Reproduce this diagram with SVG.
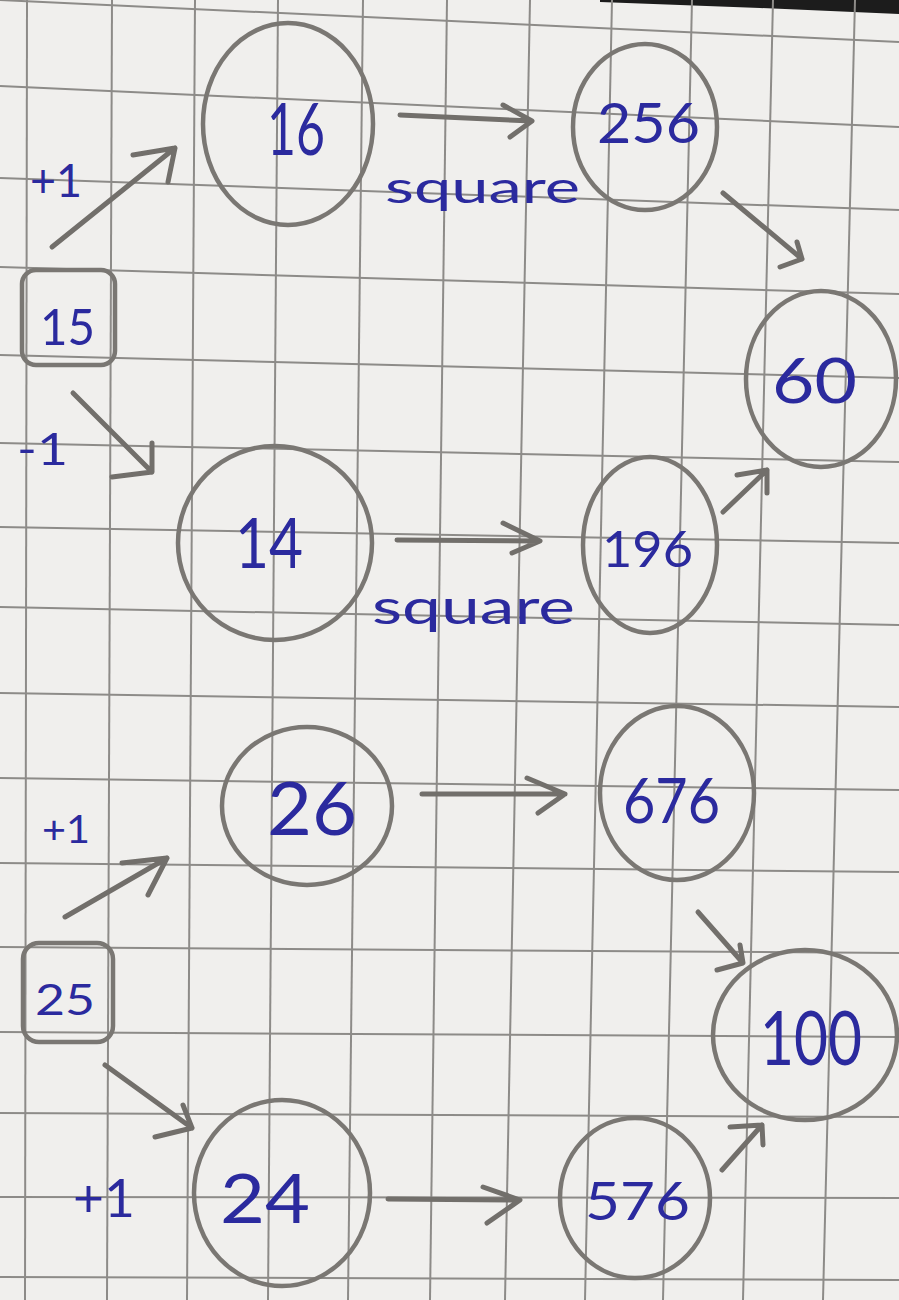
<svg xmlns="http://www.w3.org/2000/svg" width="899" height="1300" viewBox="0 0 899 1300">
<style>
.grid line{stroke:#8d8b88;stroke-width:2}
.node{fill:none;stroke:#7a7773;stroke-width:4.5}
.edge{fill:none;stroke:#726f6b;stroke-width:5;stroke-linecap:round;stroke-linejoin:round}
.num{font-family:Lato,"Liberation Sans",sans-serif;font-weight:400;fill:#2b2a9e}
.lbl{font-family:Lato,"Liberation Sans",sans-serif;font-weight:400;fill:#2b2a9e}
</style>
<rect width="899" height="1300" fill="#f0efed"/>
<polygon points="600,0 899,0 899,14 760,8 600,2" fill="#1c1c1c"/>
<g class="grid">
<line x1="0" y1="0" x2="899" y2="42"/>
<line x1="0" y1="86" x2="899" y2="127"/>
<line x1="0" y1="178" x2="899" y2="210"/>
<line x1="0" y1="267" x2="899" y2="294"/>
<line x1="0" y1="355" x2="899" y2="378"/>
<line x1="0" y1="443" x2="899" y2="462"/>
<line x1="0" y1="527" x2="899" y2="543"/>
<line x1="0" y1="607" x2="899" y2="625"/>
<line x1="0" y1="693" x2="899" y2="707"/>
<line x1="0" y1="778" x2="899" y2="790"/>
<line x1="0" y1="863" x2="899" y2="872"/>
<line x1="0" y1="947" x2="899" y2="953"/>
<line x1="0" y1="1032" x2="899" y2="1037"/>
<line x1="0" y1="1113" x2="899" y2="1117"/>
<line x1="0" y1="1197" x2="899" y2="1198"/>
<line x1="0" y1="1277" x2="899" y2="1280"/>
<line x1="27" y1="0" x2="25" y2="1300"/>
<line x1="112" y1="0" x2="107" y2="1300"/>
<line x1="195" y1="0" x2="187" y2="1300"/>
<line x1="278" y1="0" x2="268" y2="1300"/>
<line x1="363" y1="0" x2="348" y2="1300"/>
<line x1="447" y1="0" x2="430" y2="1300"/>
<line x1="530" y1="0" x2="505" y2="1300"/>
<line x1="612" y1="0" x2="585" y2="1300"/>
<line x1="692" y1="0" x2="663" y2="1300"/>
<line x1="773" y1="0" x2="743" y2="1300"/>
<line x1="855" y1="0" x2="823" y2="1300"/>
</g>
<g id="connectors">
<path class="edge" d="M52,247 L175,148 M133,155 L175,148 L168,182"/>
<path class="edge" d="M400,115 L532,121 M503,105 L532,121 L510,137"/>
<path class="edge" d="M723,193 L802,259 M797,242 L802,259 L780,267"/>
<path class="edge" d="M73,393 L152,472 M152,443 L152,472 L112,477"/>
<path class="edge" d="M397,540 L540,541 M503,523 L540,541 L512,553"/>
<path class="edge" d="M723,512 L767,470 M737,475 L767,470 L767,493"/>
<path class="edge" d="M65,917 L167,858 M122,863 L167,858 L148,895"/>
<path class="edge" d="M422,794 L565,794 M527,778 L565,794 L538,813"/>
<path class="edge" d="M698,912 L743,963 M740,945 L743,963 L717,970"/>
<path class="edge" d="M105,1065 L192,1128 M183,1105 L192,1128 L155,1137"/>
<path class="edge" d="M388,1199 L520,1200 M483,1187 L520,1200 L487,1223"/>
<path class="edge" d="M722,1170 L762,1125 M730,1127 L762,1125 L763,1145"/>
<text class="lbl" x="30" y="197" font-size="46" textLength="52" lengthAdjust="spacingAndGlyphs">+1</text>
<text class="lbl" x="17" y="465" font-size="44" textLength="51" lengthAdjust="spacingAndGlyphs">-1</text>
<text class="lbl" x="42" y="843" font-size="38" textLength="48" lengthAdjust="spacingAndGlyphs">+1</text>
<text class="lbl" x="73" y="1217" font-size="52" textLength="62" lengthAdjust="spacingAndGlyphs">+1</text>
<text class="lbl" x="385" y="203" font-size="44" textLength="195" lengthAdjust="spacingAndGlyphs">square</text>
<text class="lbl" x="372" y="624" font-size="48" textLength="203" lengthAdjust="spacingAndGlyphs">square</text>
</g>
<g id="n15">
<rect class="node" x="22" y="270" width="93" height="95" rx="14"/>
<text class="num" x="40" y="345" font-size="51" textLength="55" lengthAdjust="spacingAndGlyphs">15</text>
</g>
<g id="n16">
<ellipse class="node" cx="288" cy="124" rx="85" ry="101"/>
<text class="num" x="267" y="155" font-size="72" textLength="58" lengthAdjust="spacingAndGlyphs">16</text>
</g>
<g id="n256">
<ellipse class="node" cx="645" cy="127" rx="72" ry="83"/>
<text class="num" x="597" y="143" font-size="57" textLength="103" lengthAdjust="spacingAndGlyphs">256</text>
</g>
<g id="n60">
<ellipse class="node" cx="821" cy="379" rx="75" ry="88"/>
<text class="num" x="772" y="403" font-size="62" textLength="85" lengthAdjust="spacingAndGlyphs">60</text>
</g>
<g id="n14">
<ellipse class="node" cx="275" cy="543" rx="97" ry="97"/>
<text class="num" x="235" y="568" font-size="70" textLength="68" lengthAdjust="spacingAndGlyphs">14</text>
</g>
<g id="n196">
<ellipse class="node" cx="650" cy="545" rx="67" ry="88"/>
<text class="num" x="602" y="567" font-size="51" textLength="91" lengthAdjust="spacingAndGlyphs">196</text>
</g>
<g id="n25">
<rect class="node" x="23" y="943" width="90" height="99" rx="16"/>
<text class="num" x="35" y="1015" font-size="42" textLength="60" lengthAdjust="spacingAndGlyphs">25</text>
</g>
<g id="n26">
<ellipse class="node" cx="307" cy="806" rx="85" ry="79"/>
<text class="num" x="267" y="835" font-size="73" textLength="90" lengthAdjust="spacingAndGlyphs">26</text>
</g>
<g id="n676">
<ellipse class="node" cx="677" cy="793" rx="77" ry="87"/>
<text class="num" x="623" y="823" font-size="62" textLength="97" lengthAdjust="spacingAndGlyphs">676</text>
</g>
<g id="n100">
<ellipse class="node" cx="805" cy="1035" rx="92" ry="85"/>
<text class="num" x="760" y="1065" font-size="76" textLength="102" lengthAdjust="spacingAndGlyphs">100</text>
</g>
<g id="n24">
<ellipse class="node" cx="282" cy="1193" rx="88" ry="93"/>
<text class="num" x="220" y="1223" font-size="67" textLength="90" lengthAdjust="spacingAndGlyphs">24</text>
</g>
<g id="n576">
<ellipse class="node" cx="635" cy="1198" rx="75" ry="80"/>
<text class="num" x="585" y="1220" font-size="53" textLength="105" lengthAdjust="spacingAndGlyphs">576</text>
</g>
</svg>
